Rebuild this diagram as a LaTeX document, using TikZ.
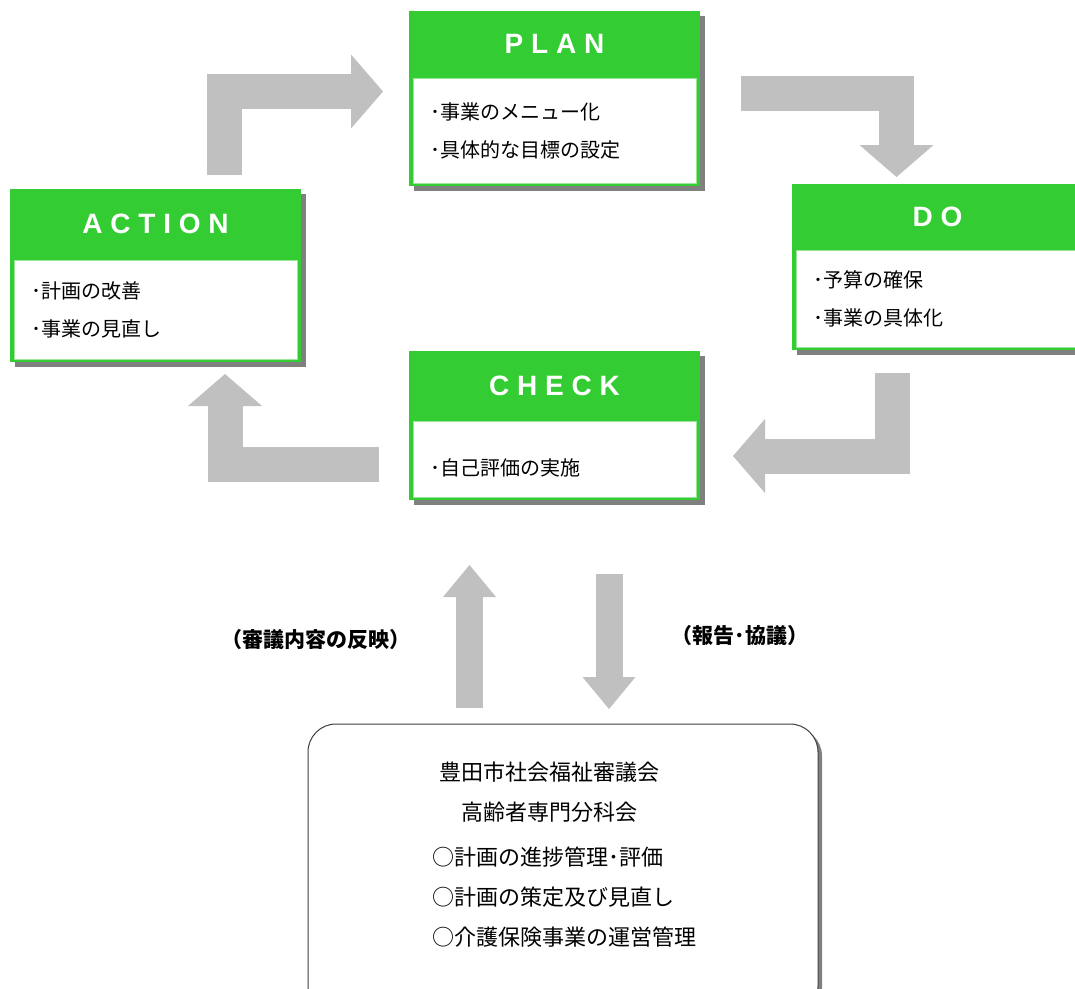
\documentclass[tikz,border=0pt]{standalone}
\usepackage{fontspec}
\usepackage{tikz}
\usetikzlibrary{arrows.meta,positioning,calc,shadows}
\newfontfamily\jpfont{Noto Sans CJK JP}
\newfontfamily\headfont{Liberation Sans}
\definecolor{stagegreen}{HTML}{33CC33}
\definecolor{shadowgray}{HTML}{808080}
\definecolor{arrowgray}{HTML}{C0C0C0}
\definecolor{bodyline}{HTML}{9BE59B}
\definecolor{frame}{HTML}{404040}
\tikzset{
  stage/.style={
    rectangle,fill=stagegreen,minimum width=291pt,inner sep=0pt,
    drop shadow={shadow xshift=5pt,shadow yshift=-5pt,fill=shadowgray,opacity=1}
  },
  stagetitle/.style={
    text=white,inner sep=0pt,font=\headfont\bfseries\fontsize{28pt}{30pt}\selectfont
  },
  stagebody/.style={
    rectangle,fill=white,draw=bodyline,line width=.5pt,
    minimum width=283pt,text width=249pt,inner xsep=17pt,inner ysep=0pt,
    align=left,font=\jpfont\fontsize{20pt}{38pt}\selectfont
  },
  council/.style={
    rectangle,rounded corners=28pt,draw=frame,line width=1pt,fill=white,
    drop shadow={shadow xshift=4pt,shadow yshift=-4pt,fill=black!50,opacity=1}
  },
  counciltext/.style={inner sep=0pt,font=\jpfont\fontsize{22pt}{40pt}\selectfont},
  flowlabel/.style={inner sep=0pt,font=\jpfont\bfseries\fontsize{21pt}{24pt}\selectfont},
  bigarrow/.style={
    draw=arrowgray,line width=35pt,line join=miter,
    -{Triangle[length=32pt,width=74pt,line width=0pt]}
  },
  linkarrow/.style={
    draw=arrowgray,line width=27pt,
    -{Triangle[length=32pt,width=53pt,line width=0pt]}
  }
}

\begin{document}
\begin{tikzpicture}[x=1pt,y=-1pt]
\path[use as bounding box,fill=white] (0,0) rectangle (1075,988);

% PDCA stages
\node[stage,minimum height=175pt] (plan) at (554.5,98.5) {};
\node[stagebody,minimum height=105pt,above=3pt of plan.south] (planbody)
{･事業のメニュー化\\･具体的な目標の設定};
\node[stagetitle] (plantitle) at ($(plan.north)!.5!(planbody.north)$) {P L A N};

\node[stage,minimum height=166pt] (do) at (937.5,267) {};
\node[stagebody,minimum height=97pt,above=3pt of do.south] (dobody)
{･予算の確保\\･事業の具体化};
\node[stagetitle] (dotitle) at ($(do.north)!.5!(dobody.north)$) {D O};

\node[stage,minimum height=149pt] (check) at (554.5,425.5) {};
\node[stagebody,minimum height=76pt,text height=35pt,above=3pt of check.south] (checkbody)
{･自己評価の実施};
\node[stagetitle] (checktitle) at ($(check.north)!.5!(checkbody.north)$) {C H E C K};

\node[stage,minimum height=173pt] (action) at (155.5,275.5) {};
\node[stagebody,minimum height=99pt,above=3pt of action.south] (actionbody)
{･計画の改善\\･事業の見直し};
\node[stagetitle] (actiontitle) at ($(action.north)!.5!(actionbody.north)$) {A C T I O N};

% council
\node[council,minimum width=510pt,minimum height=290pt] (council) at (563,869) {};
\node[counciltext,align=center] (councilname) at (549,792.5)
{豊田市社会福祉審議会\\高齢者専門分科会};
\node[counciltext,align=left,anchor=west] (counciltasks) at (432,897.5)
{○計画の進捗管理･評価\\○計画の策定及び見直し\\○介護保険事業の運営管理};

\node[flowlabel] (reflect) at (316,640) {（審議内容の反映）};
\node[flowlabel] (report) at (740,636) {（報告･協議）};

% arrows
\coordinate (ap) at (224.5,175);
\coordinate (pa) at (383,91.5);
\coordinate (pd) at (741,93.5);
\coordinate (dp) at (896.5,177);
\coordinate (dc) at (892.5,373);
\coordinate (cd) at (733,456);
\coordinate (ca) at (379,464.5);
\coordinate (ac) at (225,374);
\coordinate (up) at (469.5,708);
\coordinate (uc) at (469.5,565);
\coordinate (dn) at (609,574);
\coordinate (dd) at (609,709);

\draw[bigarrow] (ap) |- (pa);
\draw[bigarrow] (pd) -| (dp);
\draw[bigarrow] (dc) |- (cd);
\draw[bigarrow] (ca) -| (ac);
\draw[linkarrow] (up) -- (uc);
\draw[linkarrow] (dn) -- (dd);
\end{tikzpicture}
\end{document}
